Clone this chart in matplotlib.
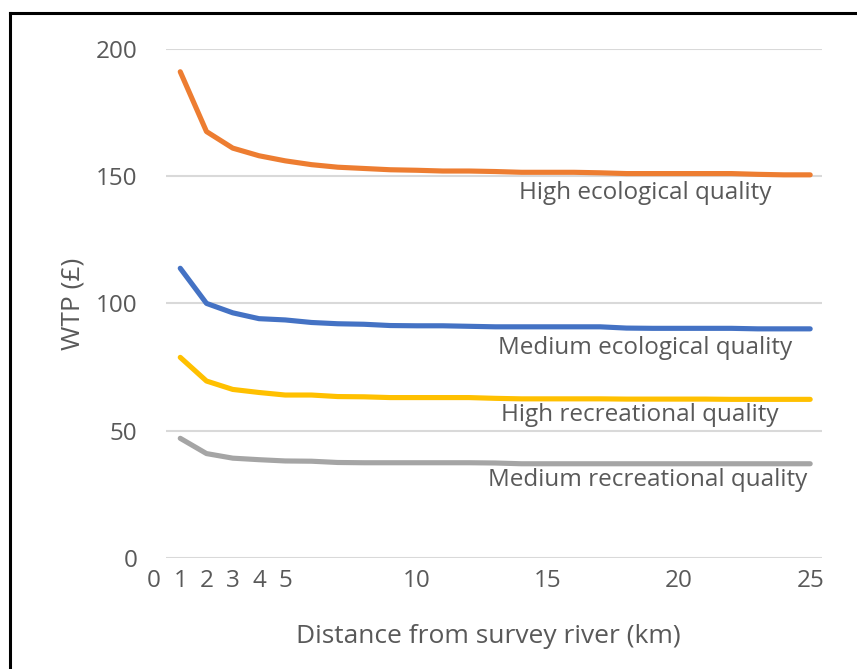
import matplotlib
matplotlib.use('Agg')
import matplotlib.pyplot as plt
from matplotlib.lines import Line2D

plt.rcParams['font.family'] = ['Open Sans', 'DejaVu Sans']

distance = list(range(1, 26))

high_eco = [191, 167.5, 161, 158, 156, 154.5, 153.5, 153, 152.5, 152.3,
            152, 152, 151.8, 151.5, 151.5, 151.5, 151.3, 151, 151, 151,
            151, 151, 150.7, 150.5, 150.5]
med_eco = [113.8, 100, 96.3, 94, 93.5, 92.5, 92, 91.8, 91.3, 91.2,
           91.2, 91, 90.8, 90.8, 90.8, 90.8, 90.8, 90.3, 90.2, 90.2,
           90.2, 90.2, 90, 90, 90]
high_rec = [78.8, 69.5, 66.2, 65, 64, 64, 63.4, 63.3, 63, 63,
            63, 63, 62.7, 62.5, 62.5, 62.5, 62.5, 62.4, 62.4, 62.4,
            62.4, 62.3, 62.3, 62.3, 62.3]
med_rec = [47, 41, 39.2, 38.6, 38.1, 38, 37.5, 37.4, 37.4, 37.4,
           37.4, 37.4, 37.3, 37, 37, 37, 37, 37, 37, 37,
           37, 37, 37, 37, 37]

series = [
    (high_eco, '#ed7d31', 'High ecological quality', 18.7, 143.4),
    (med_eco, '#4472c4', 'Medium ecological quality', 18.7, 82.5),
    (high_rec, '#ffc000', 'High recreational quality', 18.5, 56.2),
    (med_rec, '#a5a5a5', 'Medium recreational quality', 18.8, 30.6),
]

xticks = [0, 1, 2, 3, 4, 5, 10, 15, 20, 25]
yticks = [0, 50, 100, 150, 200]
txt = '#595959'

fig = plt.figure(figsize=(8.57, 6.69), dpi=100)
ax = fig.add_axes([154 / 857, 0.166, 668 / 857, 0.761])

# gridlines stop short of x=0, the way the spreadsheet draws them
ax.hlines(yticks, 0.46, 25.45, color='#d9d9d9', lw=1.5, zorder=1)

for vals, col, name, lx, ly in series:
    ax.plot(distance, vals, color=col, lw=3.7, solid_capstyle='round', zorder=3)
    ax.text(lx, ly, name, color=txt, fontsize=17.5, ha='center', va='center')

ax.set_xlim(0, 25.45)
ax.set_ylim(0, 200)
ax.set_xticks(xticks)
ax.set_yticks(yticks)
ax.tick_params(length=0, labelsize=17.5, labelcolor=txt)
ax.tick_params(axis='y', pad=12)
ax.tick_params(axis='x', pad=8)
for s in ax.spines.values():
    s.set_visible(False)
ax.patch.set_visible(False)

ax.set_ylabel('WTP (£)', fontsize=19, color=txt)
ax.yaxis.set_label_coords(-0.103, 0.5)
ax.set_xlabel('Distance from survey river (km)', fontsize=19, color=txt, labelpad=22)

# black frame on the left and top edges
fig.add_artist(Line2D([10 / 857, 10 / 857], [0, 1 - 13 / 669], color='black', lw=2.2,
                      transform=fig.transFigure))
fig.add_artist(Line2D([10 / 857, 1], [1 - 13 / 669, 1 - 13 / 669], color='black', lw=2.2,
                      transform=fig.transFigure))

fig.savefig('out.png', dpi=100)
